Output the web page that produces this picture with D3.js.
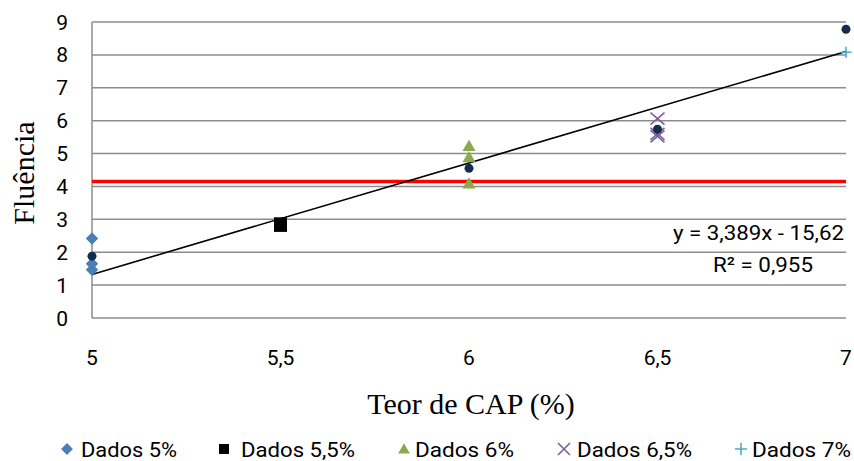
<!DOCTYPE html>
<html><head><meta charset="utf-8">
<script src="https://cdn.jsdelivr.net/npm/d3@7/dist/d3.min.js"></script>
<style>
body{margin:0;background:#fff}
.sans{font-family:Roboto,"Liberation Sans",sans-serif}
.serif{font-family:"Liberation Serif","Times New Roman",serif}
</style></head>
<body><svg id="c" width="854" height="461"></svg>
<script>
const xTicks = [5, 5.5, 6, 6.5, 7];
const xTickLabels = ["5", "5,5", "6", "6,5", "7"];
const yTicks = [0, 1, 2, 3, 4, 5, 6, 7, 8, 9];
const dados5 = [[5, 2.42], [5, 1.65], [5, 1.47]];
const dados55 = [[5.5, 2.80], [5.5, 2.88], [5.5, 2.84]];
const dados6 = [[6, 5.22], [6, 4.88], [6, 4.08]];
const dados65 = [[6.5, 6.06], [6.5, 5.60], [6.5, 5.52]];
const dados7 = [[7, 8.08]];
const medias = [[5, 1.88], [5.5, 2.78], [6, 4.55], [6.5, 5.74], [7, 8.78]];
const refLine = 4.15;
const trendSlope = 3.389, trendIntercept = -15.62;
const legendLabels = ["Dados 5%", "Dados 5,5%", "Dados 6%", "Dados 6,5%", "Dados 7%"];

const svg = d3.select("#c");
const x = d3.scaleLinear().domain([5, 7]).range([92, 846]);
const y = d3.scaleLinear().domain([0, 9]).range([318, 22]);

// gridlines
svg.append("g").selectAll("line").data(yTicks).join("line")
  .attr("x1", 92).attr("x2", 846)
  .attr("y1", d => y(d)).attr("y2", d => y(d))
  .attr("stroke", "#8c8c8c").attr("stroke-width", 1.5);
svg.append("line").attr("x1", x(5)).attr("x2", x(5)).attr("y1", y(0)).attr("y2", y(9))
  .attr("stroke", "#8c8c8c").attr("stroke-width", 1.5);

// tick labels
svg.append("g").selectAll("text").data(yTicks).join("text")
  .attr("class", "sans").attr("x", 68).attr("y", d => y(d)).attr("dy", "0.36em")
  .attr("text-anchor", "end").attr("font-size", 21).attr("fill", "#000").text(d => d);
svg.append("g").selectAll("text").data(xTicks).join("text")
  .attr("class", "sans").attr("x", d => x(d)).attr("y", 365)
  .attr("text-anchor", "middle").attr("font-size", 21).attr("fill", "#000")
  .text((d, i) => xTickLabels[i]);

// axis titles
svg.append("text").attr("class", "serif").attr("x", 471).attr("y", 414).attr("text-anchor", "middle")
  .attr("font-size", 30).text("Teor de CAP (%)");
svg.append("text").attr("class", "serif").attr("transform", "translate(34,173) rotate(-90)").attr("text-anchor", "middle")
  .attr("font-size", 30).text("Fluência");

// red reference line
svg.append("line").attr("x1", x(5)).attr("x2", x(7)).attr("y1", y(refLine)).attr("y2", y(refLine))
  .attr("stroke", "#ff0000").attr("stroke-width", 3.5);
// trend line
svg.append("line").attr("x1", x(5)).attr("x2", x(7))
  .attr("y1", y(trendSlope * 5 + trendIntercept)).attr("y2", y(trendSlope * 7 + trendIntercept))
  .attr("stroke", "#000").attr("stroke-width", 1.6);

const sym = (type, size) => d3.symbol().type(type).size(size)();
const colors = {d5: "#4a7ebb", d55: "#000", d6: "#8ea84e", d65: "#7a5fa0", d7: "#4bacc6", m: "#142d4f"};

function drawX(g, cx, cy, rx, ry, color) {
  g.append("path").attr("d", `M${cx - rx},${cy - ry}L${cx + rx},${cy + ry}M${cx - rx},${cy + ry}L${cx + rx},${cy - ry}`)
    .attr("stroke", color).attr("stroke-width", 1.6).attr("fill", "none");
}
function drawPlus(g, cx, cy, r, color) {
  g.append("path").attr("d", `M${cx - r},${cy}L${cx + r},${cy}M${cx},${cy - r}L${cx},${cy + r}`)
    .attr("stroke", color).attr("stroke-width", 1.6).attr("fill", "none");
}

const pts = svg.append("g");
pts.selectAll(".d5").data(dados5).join("path").attr("class", "d5")
  .attr("transform", d => `translate(${x(d[0])},${y(d[1])}) rotate(45)`)
  .attr("d", sym(d3.symbolSquare, 78)).attr("fill", colors.d5);
dados65.forEach(d => drawX(pts, x(d[0]), y(d[1]), 7, 6, colors.d65));
dados7.forEach(d => drawPlus(pts, x(d[0]), y(d[1]), 5.5, colors.d7));
pts.selectAll(".d6").data(dados6).join("path").attr("class", "d6")
  .attr("transform", d => `translate(${x(d[0])},${y(d[1]) + 1})`)
  .attr("d", sym(d3.symbolTriangle, 75)).attr("fill", colors.d6);
pts.selectAll(".m").data(medias).join("circle").attr("class", "m")
  .attr("cx", d => x(d[0])).attr("cy", d => y(d[1])).attr("r", 4.5).attr("fill", colors.m);
pts.selectAll(".d55").data(dados55).join("rect").attr("class", "d55")
  .attr("x", d => x(d[0]) - 6.5).attr("y", d => y(d[1]) - 6).attr("width", 13).attr("height", 12)
  .attr("fill", colors.d55);

// equation
svg.append("text").attr("class", "sans").attr("x", 673).attr("y", 240)
  .attr("font-size", 21).attr("textLength", 171).attr("lengthAdjust", "spacingAndGlyphs").text("y = 3,389x - 15,62");
svg.append("text").attr("class", "sans").attr("x", 713).attr("y", 272)
  .attr("font-size", 21).attr("textLength", 100).attr("lengthAdjust", "spacingAndGlyphs").text("R² = 0,955");

// legend
const lg = svg.append("g");
const lx = [67, 224, 404, 564, 741];
const tx = [81, 241, 415, 577, 752];
const tw = [96, 114, 99, 115, 99];
const ly = 449;
lg.append("path").attr("transform", `translate(${lx[0]},${ly}) rotate(45)`).attr("d", sym(d3.symbolSquare, 70)).attr("fill", colors.d5);
lg.append("rect").attr("x", lx[1] - 5).attr("y", ly - 5).attr("width", 10).attr("height", 10).attr("fill", colors.d55);
lg.append("path").attr("transform", `translate(${lx[2]},${ly + 1})`).attr("d", sym(d3.symbolTriangle, 60)).attr("fill", colors.d6);
drawX(lg, lx[3], ly, 6, 6, colors.d65);
drawPlus(lg, lx[4], ly, 6, colors.d7);
lg.selectAll("text").data(legendLabels).join("text").attr("class", "sans")
  .attr("x", (d, i) => tx[i]).attr("y", ly).attr("dy", "0.36em")
  .attr("font-size", 21).attr("textLength", (d, i) => tw[i]).attr("lengthAdjust", "spacingAndGlyphs")
  .text(d => d);
</script></body></html>
